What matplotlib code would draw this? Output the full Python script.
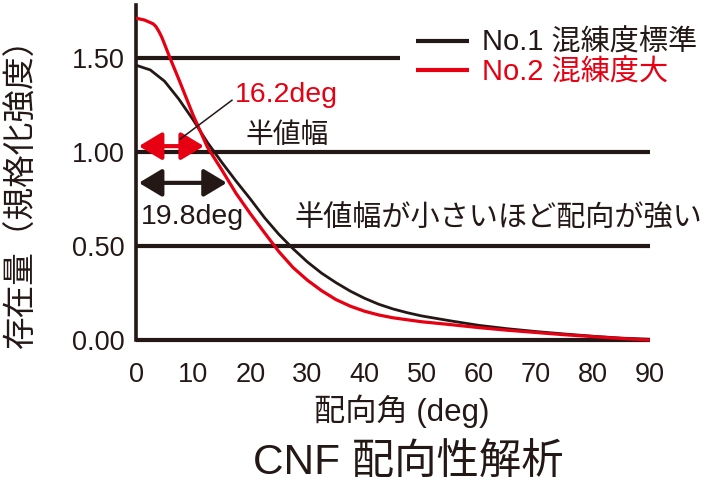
import matplotlib
matplotlib.use("Agg")
import matplotlib.pyplot as plt

plt.rcParams['font.family'] = ['Liberation Sans', 'Noto Sans CJK JP']

BLACK = '#231815'
RED = '#e60012'

# ---- data ----
angle_no2 = [0, 1.5, 3, 3.5, 4, 4.5, 5, 6, 7.5, 10, 12.5, 15, 17.5, 20, 22.5, 25,
             27.5, 30, 32.5, 35, 37.5, 40, 42.5, 45, 50, 55, 60, 65, 70, 75, 80, 85, 90]
val_no2 = [1.71, 1.70, 1.68, 1.665, 1.64, 1.61, 1.572, 1.495, 1.385, 1.195, 1.025,
           0.905, 0.78, 0.672, 0.57, 0.47, 0.385, 0.318, 0.262, 0.215, 0.18, 0.153,
           0.133, 0.118, 0.097, 0.082, 0.066, 0.052, 0.040, 0.028, 0.018, 0.008, 0.0]

angle_no1 = [0, 2.5, 5, 7.5, 10, 12.5, 15, 17.5, 20, 22.5, 25, 27.5, 30, 32.5, 35,
             37.5, 40, 42.5, 45, 47.5, 50, 55, 60, 65, 70, 75, 80, 85, 90]
val_no1 = [1.46, 1.435, 1.375, 1.28, 1.17, 1.05, 0.945, 0.845, 0.75, 0.65, 0.562,
           0.485, 0.415, 0.355, 0.305, 0.26, 0.222, 0.19, 0.165, 0.145, 0.128, 0.102,
           0.078, 0.06, 0.045, 0.032, 0.02, 0.01, 0.004]

series_labels = ['No.1 混練度標準', 'No.2 混練度大']
xticks = [0, 10, 20, 30, 40, 50, 60, 70, 80, 90]
yticks = [0.0, 0.5, 1.0, 1.5]
ytick_labels = ['0.00', '0.50', '1.00', '1.50']
ref_lines = [0.5, 1.0]
ref_line_short = 1.5
ref_line_short_end = 46.3

fwhm_no2_label = '16.2deg'
fwhm_no1_label = '19.8deg'
fwhm_no2_span = (0.5, 11.9, 1.03)
fwhm_no1_span = (0.5, 15.9, 0.835)

# ---- figure ----
fig = plt.figure(figsize=(7.11, 4.95), dpi=100)
W, H = 711, 495
ax = fig.add_axes([136 / W, 1 - 340 / H, 514 / W, 335 / H])
ax.set_xlim(0, 90)
ax.set_ylim(0, 1.78)

for s in ['top', 'right']:
    ax.spines[s].set_visible(False)
ax.spines['left'].set_linewidth(2.6)
ax.spines['left'].set_color(BLACK)
ax.spines['bottom'].set_linewidth(3.0)
ax.spines['bottom'].set_color(BLACK)
ax.spines['bottom'].set_capstyle('butt')

for yv in ref_lines:
    ax.plot([0, 90], [yv, yv], color=BLACK, lw=3.0, solid_capstyle='butt', zorder=2)
ax.plot([0, ref_line_short_end], [ref_line_short, ref_line_short], color=BLACK, lw=3.0,
        solid_capstyle='butt', zorder=2)

l1, = ax.plot(angle_no1, val_no1, color=BLACK, lw=2.0, zorder=3, clip_on=False,
              solid_capstyle='butt', solid_joinstyle='round')
l2, = ax.plot(angle_no2, val_no2, color=RED, lw=2.3, zorder=4, clip_on=False,
              solid_capstyle='butt', solid_joinstyle='round')

ax.set_xticks(xticks)
ax.set_xticklabels([str(t) for t in xticks])
ax.set_yticks(yticks)
ax.set_yticklabels(ytick_labels)
ax.tick_params(axis='both', length=0, labelsize=19.5, colors=BLACK)
ax.tick_params(axis='x', pad=16)
ax.tick_params(axis='y', pad=8)

ax.set_xlabel('配向角 (deg)', fontsize=22.5, color=BLACK, va='center')
ax.xaxis.set_label_coords((402 - 136) / 514, (340 - 411) / 335)
ax.set_ylabel('存在量（規格化強度）', fontsize=23.5, color=BLACK, va='center')
ax.yaxis.set_label_coords((22 - 136) / 514, (340 - 184.5) / 335)

fig.text(408 / W, 1 - 464 / H, 'CNF 配向性解析', fontsize=30.5, color=BLACK,
         ha='center', va='center')

leg = ax.legend([l1, l2], series_labels, loc='upper left',
                bbox_to_anchor=(416 / W, 1 - 29 / H), bbox_transform=fig.transFigure,
                frameon=False, fontsize=21, handlelength=1.8, handletextpad=0.45,
                labelspacing=0.05, borderpad=0, borderaxespad=0)
for line in leg.get_lines():
    line.set_linewidth(3.0)
leg.get_texts()[0].set_color(BLACK)
leg.get_texts()[1].set_color(RED)

# FWHM arrows
x0, x1, yv = fwhm_no2_span
ax.annotate('', xy=(x1, yv), xytext=(x0, yv),
            arrowprops=dict(arrowstyle='<|-|>,head_length=0.7,head_width=0.42',
                            mutation_scale=20, color=RED, lw=3.0,
                            shrinkA=0, shrinkB=0), zorder=5)
x0, x1, yv = fwhm_no1_span
ax.annotate('', xy=(x1, yv), xytext=(x0, yv),
            arrowprops=dict(arrowstyle='<|-|>,head_length=0.7,head_width=0.42',
                            mutation_scale=20, color=BLACK, lw=3.0,
                            shrinkA=0, shrinkB=0), zorder=5)

# leader line
ax.plot([7.7, 16.8], [1.067, 1.274], color=BLACK, lw=1.1, zorder=5)

ax.text(17.3, 1.266, fwhm_no2_label, color=RED, fontsize=20.5, ha='left', va='baseline')
ax.text(0.9, 0.615, fwhm_no1_label, color=BLACK, fontsize=20.5, ha='left', va='baseline')
ax.text(19.1, 1.086, '半値幅', color=BLACK, fontsize=20, ha='left', va='center')
ax.text(27.8, 0.642, '半値幅が小さいほど配向が強い', color=BLACK, fontsize=21,
        ha='left', va='center')

fig.savefig('out.png', dpi=100)
